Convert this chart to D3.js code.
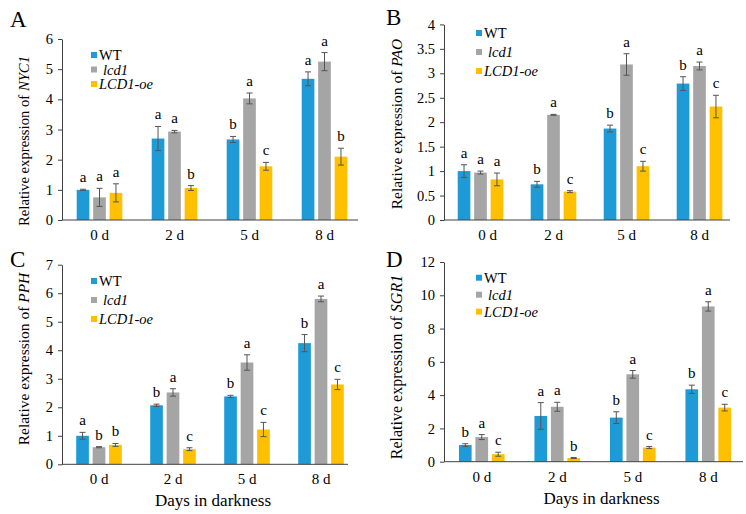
<!DOCTYPE html>
<html>
<head>
<meta charset="utf-8">
<script src="https://cdn.jsdelivr.net/npm/d3@7"></script>
<style>
  body { margin: 0; background: #fff; }
  svg text { font-family: "Liberation Serif", "Times New Roman", Times, serif !important; fill: #000; }
</style>
</head>
<body>
<div id="chart"></div>
<script>
// Categories and series
const days = ["0 d", "2 d", "5 d", "8 d"];
const series = ["WT", "lcd1", "LCD1-oe"];
const colors = ["#1E9BD7", "#A5A5A5", "#FFC000"];

// Panel A - NYC1
const nycMean = [[1.0, 2.7, 2.67, 4.68], [0.75, 2.93, 4.03, 5.25], [0.9, 1.06, 1.78, 2.1]];
const nycErr = [[0.02, 0.4, 0.1, 0.23], [0.3, 0.04, 0.18, 0.3], [0.3, 0.08, 0.13, 0.28]];
const nycLetters = [["a", "a", "b", "a"], ["a", "a", "a", "a"], ["a", "b", "c", "b"]];

// Panel B - PAO
const paoMean = [[1.0, 0.73, 1.87, 2.79], [0.97, 2.15, 3.18, 3.15], [0.83, 0.58, 1.1, 2.32]];
const paoErr = [[0.13, 0.06, 0.07, 0.14], [0.03, 0.01, 0.22, 0.08], [0.13, 0.02, 0.1, 0.23]];
const paoLetters = [["a", "b", "b", "b"], ["a", "a", "a", "a"], ["a", "c", "c", "c"]];

// Panel C - PPH
const pphMean = [[1.0, 2.07, 2.38, 4.25], [0.6, 2.52, 3.57, 5.8], [0.68, 0.53, 1.22, 2.8]];
const pphErr = [[0.12, 0.04, 0.04, 0.3], [0.02, 0.13, 0.27, 0.1], [0.05, 0.05, 0.25, 0.18]];
const pphLetters = [["a", "b", "b", "b"], ["b", "a", "a", "a"], ["b", "c", "c", "c"]];

// Panel D - SGR1
const sgrMean = [[1.0, 2.75, 2.65, 4.35], [1.48, 3.3, 5.25, 9.33], [0.45, 0.22, 0.85, 3.25]];
const sgrErr = [[0.08, 0.8, 0.35, 0.25], [0.15, 0.27, 0.23, 0.28], [0.12, 0.03, 0.06, 0.2]];
const sgrLetters = [["b", "a", "b", "b"], ["a", "a", "a", "a"], ["c", "b", "c", "c"]];

const width = 746, height = 514;
const serif = '"Liberation Serif", "Times New Roman", Times, serif';

const svg = d3.select("#chart").append("svg")
  .attr("width", width)
  .attr("height", height)
  .style("font-family", serif);

// layout of each panel (pixel frame), data per panel
const panels = [
  { tag: "A", gene: "NYC1", mean: nycMean, err: nycErr, letters: nycLetters,
    x0: 62, step: 75, axisEnd: 358, yTop: 39, yBot: 220, yMax: 6, tickStep: 1,
    titleX: 23, titleY: 141, titleLen: 170, titleSize: 15.5,
    tagX: 10, tagY: 27, legX: 91, legY: 55, legGap: 14.5, showX: false, firstShift: 0 },
  { tag: "B", gene: "PAO", mean: paoMean, err: paoErr, letters: paoLetters,
    x0: 444, step: 73, axisEnd: 730, yTop: 24.4, yBot: 220, yMax: 4, tickStep: 0.5,
    titleX: 396, titleY: 124, titleLen: null, titleSize: 15.5,
    tagX: 386, tagY: 25, legX: 476, legY: 33, legGap: 19, showX: false, firstShift: 7 },
  { tag: "C", gene: "PPH", mean: pphMean, err: pphErr, letters: pphLetters,
    x0: 62, step: 74, axisEnd: 348, yTop: 264.7, yBot: 464.3, yMax: 7, tickStep: 1,
    titleX: 23, titleY: 359, titleLen: null, titleSize: 15.5,
    tagX: 10, tagY: 267, legX: 91, legY: 281, legGap: 19, showX: true, firstShift: 0 },
  { tag: "D", gene: "SGR1", mean: sgrMean, err: sgrErr, letters: sgrLetters,
    x0: 444, step: 75.5, axisEnd: 743, yTop: 262, yBot: 461.7, yMax: 12, tickStep: 2,
    titleX: 396, titleY: 367, titleLen: null, titleSize: 16,
    tagX: 386, tagY: 267, legX: 476, legY: 277.7, legGap: 17, showX: true, firstShift: 0 }
];

const axisColor = "#404040";
const errColor = "#555";

panels.forEach(function(p) {
  const g = svg.append("g");

  const x = d3.scaleBand()
    .domain(days)
    .range([p.x0, p.x0 + p.step * days.length]);

  const xSub = d3.scaleBand()
    .domain(series)
    .range([-22.8, 22.8])
    .paddingInner(0.23);

  const y = d3.scaleLinear()
    .domain([0, p.yMax])
    .range([p.yBot, p.yTop]);

  // bars
  series.forEach(function(s, si) {
    const rows = days.map((d, di) => ({
      day: d, v: p.mean[si][di], e: p.err[si][di], l: p.letters[si][di]
    }));
    const cx = d => x(d.day) + x.bandwidth() / 2 + xSub(s);

    g.selectAll(null).data(rows).join("rect")
      .attr("x", d => cx(d))
      .attr("y", d => y(d.v))
      .attr("width", xSub.bandwidth())
      .attr("height", d => y(0) - y(d.v))
      .attr("fill", colors[si]);

    const mid = d => cx(d) + xSub.bandwidth() / 2;
    // error bars
    g.selectAll(null).data(rows).join("line")
      .attr("x1", mid).attr("x2", mid)
      .attr("y1", d => y(d.v - d.e)).attr("y2", d => y(d.v + d.e))
      .attr("stroke", errColor).attr("stroke-width", 1);
    ["top", "bot"].forEach(function(k) {
      g.selectAll(null).data(rows).join("line")
        .attr("x1", d => mid(d) - 3).attr("x2", d => mid(d) + 3)
        .attr("y1", d => y(k === "top" ? d.v + d.e : d.v - d.e))
        .attr("y2", d => y(k === "top" ? d.v + d.e : d.v - d.e))
        .attr("stroke", errColor).attr("stroke-width", 1);
    });

    // significance letters
    g.selectAll(null).data(rows).join("text")
      .attr("x", mid)
      .attr("y", d => y(d.v + d.e) - 7)
      .attr("text-anchor", "middle")
      .style("font-size", "15px")
      .text(d => d.l);
  });

  // y axis
  const yAxis = g.append("g")
    .attr("transform", `translate(${p.x0},0)`)
    .call(d3.axisLeft(y)
      .tickValues(d3.range(0, p.yMax + 0.001, p.tickStep))
      .tickSize(4)
      .tickSizeOuter(0)
      .tickFormat(d3.format("~g")));
  yAxis.attr("font-family", null);
  yAxis.select(".domain").attr("stroke", axisColor);
  yAxis.selectAll(".tick line").attr("stroke", axisColor);
  yAxis.selectAll(".tick text")
    .attr("x", -9)
    .style("font-size", "14.5px");

  // x axis baseline
  g.append("line")
    .attr("x1", p.x0).attr("x2", p.axisEnd)
    .attr("y1", y(0)).attr("y2", y(0))
    .attr("stroke", axisColor).attr("stroke-width", 1);

  // x tick labels
  g.selectAll(null).data(days).join("text")
    .attr("x", (d, i) => x(d) + x.bandwidth() / 2 + (i === 0 ? p.firstShift : 0))
    .attr("y", y(0) + 20)
    .attr("text-anchor", "middle")
    .style("font-size", "15px")
    .text(d => d);

  if (p.showX) {
    g.append("text")
      .attr("x", p.x0 + (p.axisEnd - p.x0) / 2 + 8)
      .attr("y", y(0) + 42)
      .attr("text-anchor", "middle")
      .style("font-size", "17px")
      .text("Days in darkness");
  }

  // y title
  const t = g.append("text")
    .attr("transform", `translate(${p.titleX + 6},${p.titleY}) rotate(-90)`)
    .attr("text-anchor", "middle")
    .style("font-size", p.titleSize + "px");
  if (p.titleLen) {
    t.attr("textLength", p.titleLen).attr("lengthAdjust", "spacingAndGlyphs");
  }
  t.append("tspan").text("Relative expression of ");
  t.append("tspan").style("font-style", "italic").text(p.gene);

  // panel tag
  g.append("text")
    .attr("x", p.tagX)
    .attr("y", p.tagY)
    .style("font-size", "23px")
    .text(p.tag);

  // legend
  const leg = g.selectAll(null).data(series).join("g")
    .attr("transform", (d, i) => `translate(${p.legX},${p.legY + i * p.legGap})`);
  leg.append("rect")
    .attr("x", 0).attr("y", -3)
    .attr("width", 6).attr("height", 6)
    .attr("fill", (d, i) => colors[i]);
  leg.append("text")
    .attr("x", (d, i) => i === 1 ? 12 : 8)
    .attr("y", 5)
    .style("font-size", "14.5px")
    .style("font-style", (d, i) => i === 0 ? "normal" : "italic")
    .text(d => d);
});
</script>
</body>
</html>
